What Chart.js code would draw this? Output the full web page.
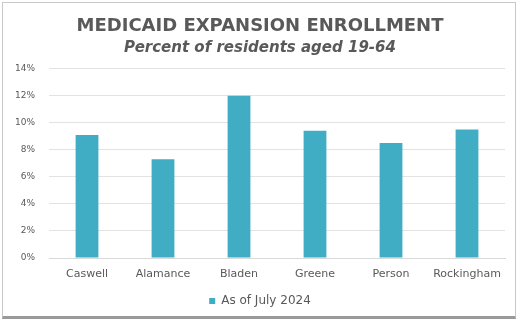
<!DOCTYPE html>
<html>
<head>
<meta charset="utf-8">
<script src="https://cdn.jsdelivr.net/npm/chart.js@4/dist/chart.umd.min.js"></script>
<style>
  html, body { margin: 0; padding: 0; background: #fff; }
  #frame {
    position: absolute; left: 2px; top: 2px;
    width: 512px; height: 313px;
    border: 1px solid #c9c9c9; border-bottom: 3px solid #9a9a9a;
    background: #fff;
  }
  #chart { display: block; }
</style>
</head>
<body>
<div id="frame"><canvas id="chart" width="512" height="313"></canvas></div>
<script>
// Enrollment share by county
const counties = ['Caswell', 'Alamance', 'Bladen', 'Greene', 'Person', 'Rockingham'];
const enrollment = [9.1, 7.3, 12.0, 9.4, 8.5, 9.5];
const seriesLabel = 'As of July 2024';
const yTicks = [0, 2, 4, 6, 8, 10, 12, 14];

const textGray = '#595959';
const font = 'DejaVu Sans';

new Chart(document.getElementById('chart'), {
  type: 'bar',
  data: {
    labels: counties,
    datasets: [{
      label: seriesLabel,
      data: enrollment,
      backgroundColor: '#41adc4',
      categoryPercentage: 1,
      barPercentage: 0.3
    }]
  },
  options: {
    responsive: false,
    animation: false,
    layout: { padding: { left: 12, right: 10, top: 4, bottom: -1 } },
    plugins: {
      title: {
        display: true,
        text: 'MEDICAID EXPANSION ENROLLMENT',
        color: textGray,
        font: { family: font, size: 18, weight: 'bold' },
        padding: { top: 9, bottom: 2 }
      },
      subtitle: {
        display: true,
        text: 'Percent of residents aged 19-64',
        color: textGray,
        font: { family: font, size: 15, weight: 'bold', style: 'italic' },
        padding: { top: 0, bottom: 11 }
      },
      legend: {
        position: 'bottom',
        labels: {
          color: textGray,
          font: { family: font, size: 12 },
          boxWidth: 6, boxHeight: 6,
          padding: 10
        }
      },
      tooltip: { enabled: false }
    },
    scales: {
      x: {
        grid: { display: false, drawTicks: false },
        border: { color: '#d9d9d9' },
        ticks: { color: textGray, font: { family: font, size: 11 }, maxRotation: 0, padding: 10 },
        // labels fit inside their categories; keep the plot area flush with the y axis
        afterFit: axis => {
          axis.height = 27;
          axis.paddingLeft = 0;
          axis.paddingRight = 0;
        }
      },
      y: {
        min: 0, max: 14,
        afterBuildTicks: axis => { axis.ticks = yTicks.map(v => ({ value: v })); },
        afterFit: axis => { axis.width = 34; },
        grid: { color: '#e3e3e3', drawTicks: false },
        border: { display: false },
        ticks: {
          color: textGray,
          font: { family: font, size: 9 },
          padding: 14,
          callback: v => v + '%'
        }
      }
    }
  }
});
</script>
</body>
</html>
